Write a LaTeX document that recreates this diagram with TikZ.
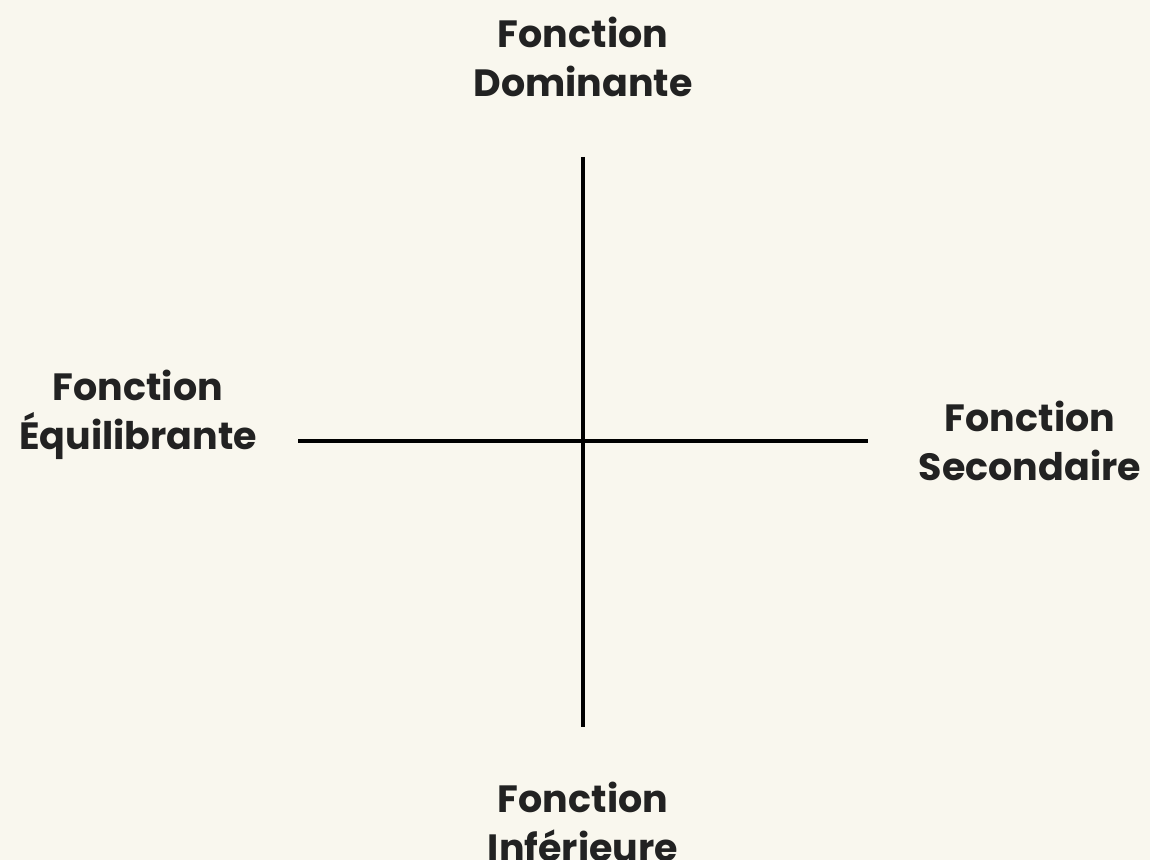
\documentclass[tikz,border=0pt]{standalone}
\usepackage{fontspec}
\setmainfont{Poppins}
\definecolor{creme}{HTML}{F9F7EE}
\definecolor{encre}{HTML}{222222}

\begin{document}
\begin{tikzpicture}[x=0.5pt, y=-0.5pt,
  fnlabel/.style={font=\fontsize{19}{24.5}\selectfont\bfseries, align=center, text=encre, inner sep=0pt},
  axe/.style={line width=2.1pt, black}]
  \fill[creme] (0,0) rectangle (1150,860);
  \useasboundingbox (0,0) rectangle (1150,860);
  % les deux axes
  \coordinate (haut) at (583,157);
  \coordinate (bas) at (583,727);
  \coordinate (gauche) at (298,441);
  \coordinate (droite) at (868,441);
  \draw[axe] (haut) -- (bas);
  \draw[axe] (gauche) -- (droite);
  % les quatre fonctions
  \node[fnlabel] (dominante) at (583,57) {Fonction\\Dominante};
  \node[fnlabel] (inferieure) at (583,822) {Fonction\\Inférieure};
  \node[fnlabel] (equilibrante) at (138,415) {Fonction\\Équilibrante};
  \node[fnlabel] (secondaire) at (1030,441) {Fonction\\Secondaire};
\end{tikzpicture}
\end{document}
